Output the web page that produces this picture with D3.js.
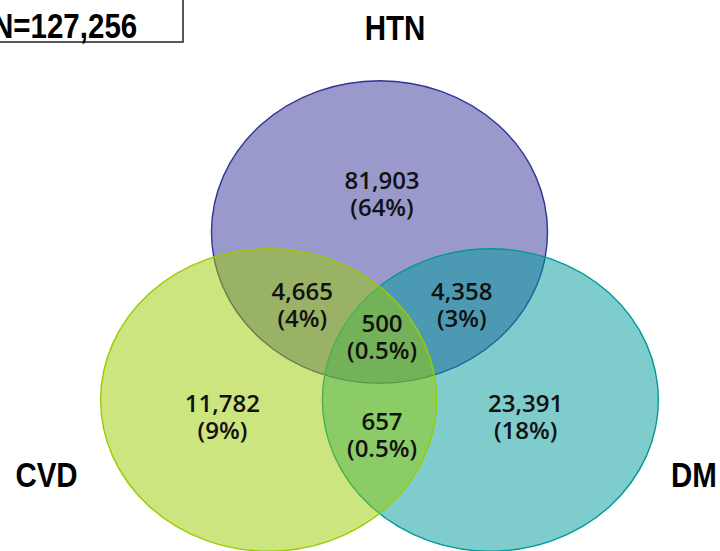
<!DOCTYPE html>
<html>
<head>
<meta charset="utf-8">
<script src="https://cdn.jsdelivr.net/npm/d3@7"></script>
<style>
  html, body { margin: 0; padding: 0; background: #fff; }
  svg { display: block; }
</style>
</head>
<body>
<svg id="chart" width="720" height="551"></svg>
<script>
// Set names and their colours
const setNames = ["HTN", "DM", "CVD"];
const setColors = ["#333399", "#009999", "#99cc00"];

// Regions of the diagram, their patient counts and share labels
const regions = ["HTN", "HTN∩CVD", "HTN∩DM", "HTN∩CVD∩DM", "CVD", "CVD∩DM", "DM"];
const counts = [81903, 4665, 4358, 500, 11782, 657, 23391];
const shareLabels = ["64%", "4%", "3%", "0.5%", "9%", "0.5%", "18%"];
const totalLabel = "N=127,256";

// Layout in diagram units (ellipse centres, label anchors)
const ellipseLayout = {
  HTN: { cx: 0.0, cy: -1.0, rx: 1.0, ry: 0.9 },
  DM:  { cx: 0.66, cy: 0.0, rx: 1.0, ry: 0.9 },
  CVD: { cx: -0.66, cy: 0.0, rx: 1.0, ry: 0.9 }
};
const labelAnchor = {
  "HTN":        [0.015, -1.255],
  "HTN∩CVD":    [-0.46, -0.595],
  "HTN∩DM":     [0.49, -0.595],
  "HTN∩CVD∩DM": [0.015, -0.405],
  "CVD":        [-0.935, 0.071],
  "CVD∩DM":     [0.015, 0.179],
  "DM":         [0.87, 0.071]
};
const nameAnchor = {
  HTN: [0.092, -2.14],
  CVD: [-1.982, 0.52],
  DM:  [1.872, 0.52]
};

const svg = d3.select("#chart");
const unit = 168;
const x = d3.scaleLinear().domain([0, 1]).range([379.5, 379.5 + unit]);
const y = d3.scaleLinear().domain([0, 1]).range([400, 400 + unit]);

const fmt = d3.format(",");

// Ellipses: fill at half strength, solid outline
const g = svg.append("g");
setNames.forEach((name, i) => {
  const e = ellipseLayout[name];
  g.append("ellipse")
    .attr("cx", x(e.cx))
    .attr("cy", y(e.cy))
    .attr("rx", x(e.rx) - x(0))
    .attr("ry", y(e.ry) - y(0))
    .attr("fill", setColors[i])
    .attr("fill-opacity", 0.5)
    .attr("stroke", setColors[i])
    .attr("stroke-width", 1.4);
});

// Region labels: count on first line, share below
const labels = svg.append("g")
  .attr("font-family", "'Open Sans', sans-serif")
  .attr("font-size", 24)
  .attr("font-weight", 600)
  .attr("fill", "#111")
  .attr("text-anchor", "middle");

regions.forEach((r, i) => {
  const [ax, ay] = labelAnchor[r];
  const t = labels.append("text")
    .attr("x", x(ax))
    .attr("y", y(ay));
  t.append("tspan").attr("x", x(ax)).text(fmt(counts[i]));
  t.append("tspan").attr("x", x(ax)).attr("dy", 27).text("(" + shareLabels[i] + ")");
});

// Set names in a condensed bold face
const nameFont = "'Liberation Sans', Arial, sans-serif";
const condense = 0.82;
svg.append("g")
  .attr("font-family", nameFont)
  .attr("font-size", 36)
  .attr("font-weight", "bold")
  .attr("fill", "#000")
  .attr("text-anchor", "middle")
  .selectAll("text")
  .data(setNames)
  .join("text")
  .attr("transform", d => `translate(${x(nameAnchor[d][0])},${y(nameAnchor[d][1])}) scale(${condense},1)`)
  .text(d => d);

// Total count box
svg.append("rect")
  .attr("x", -20)
  .attr("y", -20)
  .attr("width", 203)
  .attr("height", 62)
  .attr("fill", "none")
  .attr("stroke", "#222")
  .attr("stroke-width", 1.5);

svg.append("text")
  .attr("transform", `translate(-8,38) scale(${condense},1)`)
  .attr("font-family", nameFont)
  .attr("font-size", 36)
  .attr("font-weight", "bold")
  .attr("fill", "#000")
  .text(totalLabel);
</script>
</body>
</html>
